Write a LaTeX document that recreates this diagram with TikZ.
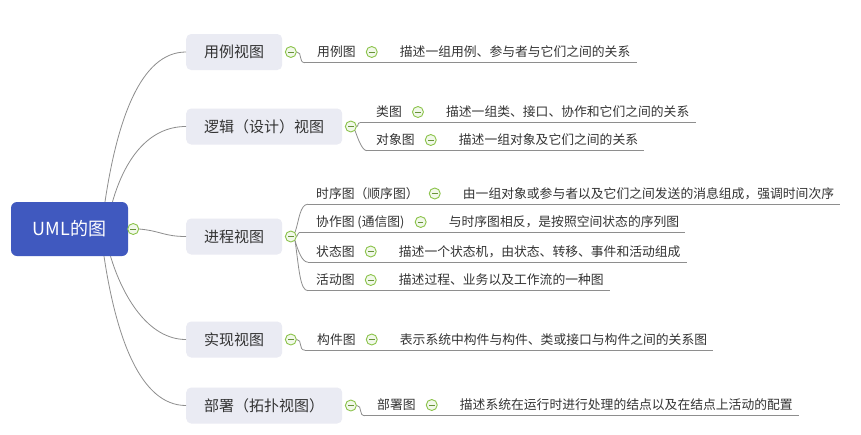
\documentclass[tikz,border=0pt]{standalone}
\usepackage{fontspec}
\setmainfont{Noto Sans CJK SC}
\usetikzlibrary{positioning}

\definecolor{rootblue}{HTML}{4059BF}
\definecolor{branchgray}{HTML}{EAEBF3}
\definecolor{textgray}{HTML}{333333}
\definecolor{linegray}{HTML}{8E8E8E}
\definecolor{togglegreen}{HTML}{8BC34A}
\definecolor{togglefill}{HTML}{F1F8EA}

\begin{document}
\begin{tikzpicture}[
    x=1pt, y=-1pt,
    every node/.style={font=\fontsize{12.8}{15}\selectfont, text=textgray},
    rootbox/.style={rectangle, rounded corners=6pt, fill=rootblue, text=white,
      minimum width=117pt, minimum height=54pt, font=\fontsize{18}{21}\selectfont},
    branchbox/.style={rectangle, rounded corners=5pt, fill=branchgray, anchor=west,
      inner xsep=18pt, minimum height=36pt, font=\fontsize{15}{18}\selectfont},
    leaf/.style={inner sep=0pt, anchor=west},
    toggle/.style={circle, draw=togglegreen, fill=togglefill, line width=0.9pt,
      minimum size=11pt, inner sep=0pt,
      path picture={\draw[togglegreen!75!black, line width=1pt]
        ([xshift=-2.8pt]path picture bounding box.center) --
        ([xshift=2.8pt]path picture bounding box.center);}},
    link/.style={draw=linegray, line width=0.8pt},
  ]
  \fill[white] (0,0) rectangle (861,434);
  \useasboundingbox (0,0) rectangle (861,434);

  % root
  \node[rootbox] (root) at (69.5,229) {UML的图};
  \node[toggle] (troot) at ([xshift=5pt]root.east) {};

  % views
  \node[branchbox] (use)   at (186,52)    {用例视图};
  \node[branchbox] (logic) at (186,126.5) {逻辑（设计）视图};
  \node[branchbox] (proc)  at (186,236.5) {进程视图};
  \node[branchbox] (impl)  at (186,339.5) {实现视图};
  \node[branchbox] (depl)  at (186,405.5) {部署（拓扑视图）};
  \foreach \b in {use, logic, proc, impl, depl}
    \node[toggle, right=2.5pt of \b] (t\b) {};

  % diagrams: label, toggle, description, underline
  \foreach \n/\x/\y/\ux/\lab/\desc in {
      1/317/52/305/用例图/描述一组用例、参与者与它们之间的关系,
      2/376/112/360/类图/描述一组类、接口、协作和它们之间的关系,
      3/376/140/367/对象图/描述一组对象及它们之间的关系,
      4/316/193.5/308/时序图（顺序图）/由一组对象或参与者以及它们之间发送的消息组成，强调时间次序,
      5/316/222/299/协作图 (通信图)/与时序图相反，是按照空间状态的序列图,
      6/316/251.5/308/状态图/描述一个状态机，由状态、转移、事件和活动组成,
      7/316/280/308/活动图/描述过程、业务以及工作流的一种图,
      8/317/339.5/305/构件图/表示系统中构件与构件、类或接口与构件之间的关系图,
      9/377/405/365/部署图/描述系统在运行时进行处理的结点以及在结点上活动的配置}
  {
    \node[leaf] (l\n) at (\x,\y) {\lab};
    \node[toggle, right=10pt of l\n] (tl\n) {};
    \node[leaf, right=22pt of tl\n] (d\n) {\desc};
    \coordinate (u\n) at (\ux,\y+10.7);
    \draw[link] (u\n) -- ([xshift=6pt]d\n.east |- u\n);
  }

  % root to views
  \draw[link] (troot.east) .. controls +(22,2) and +(-22,0) .. (proc.west);
  \draw[link] ([xshift=35.5pt]root.north) .. controls +(12,-80) and +(-46,0) .. (use.west);
  \draw[link] ([xshift=43pt]root.north) .. controls +(12,-42) and +(-38,0) .. (logic.west);
  \draw[link] ([xshift=41pt]root.south) .. controls +(12,40) and +(-38,0) .. (impl.west);
  \draw[link] ([xshift=34.5pt]root.south) .. controls +(12,80) and +(-46,0) .. (depl.west);

  % views to diagrams
  \draw[link] (tuse.east) .. controls +(6,0) and +(-7,0) .. (u1);
  \draw[link] (tlogic.east) .. controls +(2,0) and +(-3,0) .. (u2);
  \draw[link] (tlogic.south east) .. controls +(3,8) and +(-5,0) .. (u3);
  \draw[link] (tproc.north east) .. controls +(4,-12) and +(-8,0) .. (u4);
  \draw[link] (tproc.east) .. controls +(2,-1) and +(-2,0) .. (u5);
  \draw[link] (tproc.south east) .. controls +(3,10) and +(-6,0) .. (u6);
  \draw[link] (tproc.south east) .. controls +(4,28) and +(-8,0) .. (u7);
  \draw[link] (timpl.east) .. controls +(6,0) and +(-7,0) .. (u8);
  \draw[link] (tdepl.east) .. controls +(6,0) and +(-7,0) .. (u9);
\end{tikzpicture}
\end{document}
